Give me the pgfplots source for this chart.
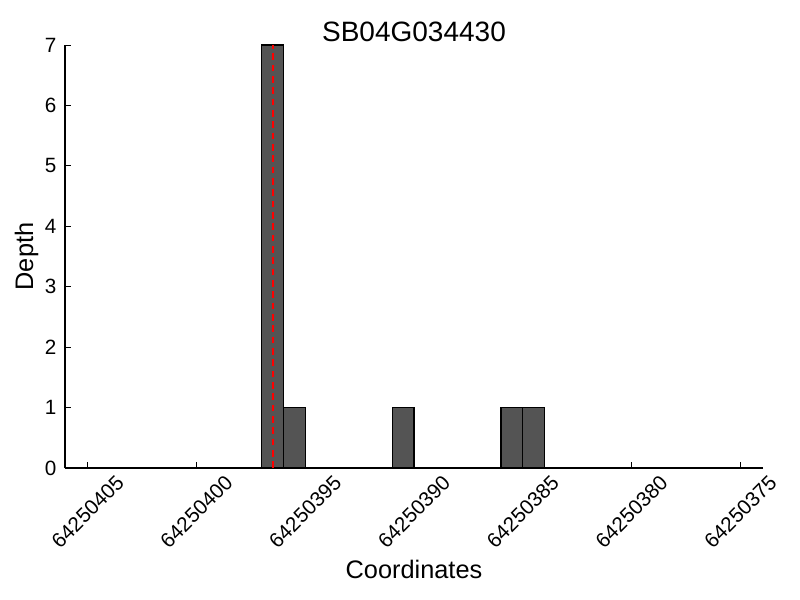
\documentclass[border=0pt]{standalone}
\usepackage{fontspec}
\setmainfont{Liberation Sans}
\usepackage{pgfplots}
\pgfplotsset{compat=1.18}

% positions are stored as offsets from 64250000
\begin{document}
\begin{tikzpicture}
\useasboundingbox (-48.75pt,-99pt) rectangle (551.25pt,351pt);
\begin{axis}[
  at={(0,0)}, anchor=south west,
  scale only axis,
  width=523.5pt, height=317.25pt,
  x dir=reverse,
  xmin=373.96, xmax=406.04,
  ymin=0, ymax=7,
  axis lines*=left,
  axis line style={-, line width=1pt},
  tick align=inside,
  major tick length=4.5pt,
  tick style={black, line width=0.6pt},
  xtick={375,380,385,390,395,400,405},
  xticklabels={
    \rotatebox{45}{64250375},\rotatebox{45}{64250380},\rotatebox{45}{64250385},
    \rotatebox{45}{64250390},\rotatebox{45}{64250395},\rotatebox{45}{64250400},
    \rotatebox{45}{64250405}},
  xticklabel style={anchor=north, font=\fontsize{15.5}{17}\selectfont, yshift=-1pt},
  ytick={0,1,...,7},
  yticklabel style={font=\fontsize{15.5}{17}\selectfont, xshift=-3pt},
  /pgf/number format/assume math mode=true,
  xlabel={Coordinates},
  ylabel={Depth},
  label style={font=\fontsize{19}{21}\selectfont},
  xlabel style={yshift=-1pt},
  ylabel style={yshift=-2pt},
  title={SB04G034430},
  title style={font=\fontsize{21}{24}\selectfont, yshift=-7pt},
  clip=false,
]
\addplot[ybar, bar width=1, bar shift=0pt, fill=black!67, draw=black, line width=0.8pt]
  coordinates {(396.5,7) (395.5,1) (390.5,1) (385.5,1) (384.5,1)};
\addplot[red, line width=1.5pt, dash pattern=on 5pt off 3.5pt]
  coordinates {(396.5,0) (396.5,7)};
\end{axis}
\end{tikzpicture}
\end{document}
